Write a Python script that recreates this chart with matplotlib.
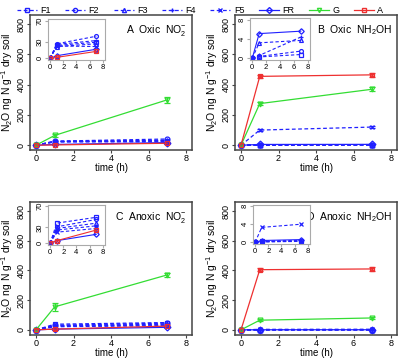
import matplotlib.pyplot as plt
from matplotlib.lines import Line2D

plt.rcParams['font.family'] = ['Liberation Sans', 'DejaVu Sans']
plt.rcParams['mathtext.fontset'] = 'custom'
plt.rcParams['mathtext.rm'] = 'Liberation Sans'
plt.rcParams['mathtext.it'] = 'Liberation Sans'

times = [0, 1, 7]
series = ['F1', 'F2', 'F3', 'F4', 'F5', 'FR', 'G', 'A']
titles = ['A  Oxic  NO$_2^{-}$', 'B  Oxic  NH$_2$OH',
          'C  Anoxic  NO$_2^{-}$', 'D  Anoxic  NH$_2$OH']

# N2O values per panel, per series (t = 0, 1, 7 h)
oxic_no2 = {'F1': [0, 24, 30], 'F2': [0, 27, 41], 'F3': [0, 22, 27],
            'F4': [0, 26, 33], 'F5': [0, 23, 22], 'FR': [0, 5, 17],
            'G': [0, 65, 300], 'A': [0, 2, 13]}
oxic_nh2oh = {'F1': [0, 0.3, 0.8], 'F2': [0, 0.4, 1.5], 'F3': [0, 3.2, 3.7],
              'F4': [0, 0.6, 4.4], 'F5': [0, 100, 120], 'FR': [0, 5.1, 5.6],
              'G': [0, 275, 370], 'A': [0, 455, 465]}
anoxic_no2 = {'F1': [0, 38, 49], 'F2': [0, 31, 45], 'F3': [0, 28, 38],
              'F4': [0, 25, 33], 'F5': [0, 21, 28], 'FR': [0, 5, 17],
              'G': [0, 155, 370], 'A': [0, 5, 25]}
anoxic_nh2oh = {'F1': [0, 0.2, 0.3], 'F2': [0, 0.1, 0.2], 'F3': [0, 0.2, 0.4],
                'F4': [0, 0.1, 0.3], 'F5': [0, 3.3, 4.0], 'FR': [0, 0.4, 0.6],
                'G': [0, 65, 80], 'A': [0, 405, 410]}
# error bars (only visible ones)
errors = [{'G': [0, 12, 18], 'A': [0, 3, 5]},
          {'G': [0, 12, 14], 'A': [0, 12, 12], 'F5': [0, 5, 8]},
          {'G': [0, 25, 12], 'A': [0, 4, 6]},
          {'G': [0, 5, 6], 'A': [0, 12, 12]}]
panels = [oxic_no2, oxic_nh2oh, anoxic_no2, anoxic_nh2oh]
inset_lims = [(0, 70, [0, 30, 70]), (0, 8, [0, 4, 8]),
              (0, 70, [0, 30, 70]), (0, 8, [0, 4, 8])]

blue, green, red = '#2020ff', '#33dd33', '#ee3030'
style = {
    'F1': dict(color=blue, ls=(0, (3, 2)), marker='s'),
    'F2': dict(color=blue, ls=(0, (3, 2)), marker='o'),
    'F3': dict(color=blue, ls=(0, (3, 2)), marker='^'),
    'F4': dict(color=blue, ls=(0, (3, 2)), marker='+'),
    'F5': dict(color=blue, ls=(0, (3, 2)), marker='x'),
    'FR': dict(color=blue, ls='-', marker='D'),
    'G': dict(color=green, ls='-', marker='v'),
    'A': dict(color=red, ls='-', marker='s'),
}


def draw(ax, data, err, ms, lw, names):
    for name in names:
        st = style[name]
        e = err.get(name) if err else None
        ax.errorbar(times, data[name], yerr=e, color=st['color'], ls=st['ls'],
                    marker=st['marker'], mfc='none', ms=ms, lw=lw, mew=0.9,
                    capsize=2, elinewidth=0.8)
        if name == 'A':
            ax.plot(times, data[name], ls='none', marker='x', color=st['color'],
                    ms=ms * 0.8, mew=0.8)


def style_axes(ax, fs, grey):
    for s in ax.spines.values():
        s.set_color(grey)
    ax.tick_params(labelsize=fs, length=2, pad=1, color=grey)
    for lab in ax.get_yticklabels():
        lab.set_rotation(90)
        lab.set_va('center')


fig = plt.figure(figsize=(4.0, 3.59), dpi=100)
main_pos = [[0.075, 0.582, 0.405, 0.376], [0.5875, 0.582, 0.405, 0.376],
            [0.075, 0.068, 0.405, 0.369], [0.5875, 0.068, 0.405, 0.369]]
inset_pos = [[0.12, 0.833, 0.1425, 0.114], [0.625, 0.833, 0.15, 0.117],
             [0.12, 0.318, 0.1425, 0.112], [0.6325, 0.321, 0.1425, 0.109]]

for i, data in enumerate(panels):
    ax = fig.add_axes(main_pos[i])
    draw(ax, data, errors[i], 3.5, 0.9, series)
    ax.set_xlim(-0.32, 8.32)
    ax.set_ylim(-32, 860)
    ax.set_xticks([0, 2, 4, 6, 8])
    ax.set_yticks([0, 200, 400, 600, 800])
    ax.set_xlabel('time (h)', fontsize=7, labelpad=0)
    ax.set_ylabel('N$_2$O ng N g$^{-1}$ dry soil', fontsize=7.5, labelpad=1)
    style_axes(ax, 6.5, '#444444')
    for s in ax.spines.values():
        s.set_linewidth(1.1)
    ax.text(0.97, 0.94, titles[i], transform=ax.transAxes, ha='right',
            va='top', fontsize=7.5)

    ins = fig.add_axes(inset_pos[i])
    small = [n for n in series if max(data[n]) <= inset_lims[i][1]]
    draw(ins, data, None, 2.8, 0.8, small)
    ins.set_xlim(-0.32, 8.32)
    lo, hi, ticks = inset_lims[i]
    ins.set_ylim(lo - hi * 0.04, hi * 1.04)
    ins.set_xticks([0, 2, 4, 6, 8])
    ins.set_yticks(ticks)
    style_axes(ins, 5.5, '#aaaaaa')
    for lab in ins.get_xticklabels() + ins.get_yticklabels():
        lab.set_color('black')

handles = []
for name in series:
    st = style[name]
    handles.append(Line2D([], [], color=st['color'], ls=st['ls'],
                          marker=st['marker'], mfc='none', ms=3, lw=0.9))
fig.legend(handles, series, ncol=8, loc='upper center',
           bbox_to_anchor=(0.5, 1.005), frameon=False, fontsize=6.5,
           handlelength=2.2, handletextpad=0.4, columnspacing=1.6)

fig.savefig('out.png', dpi=100)
